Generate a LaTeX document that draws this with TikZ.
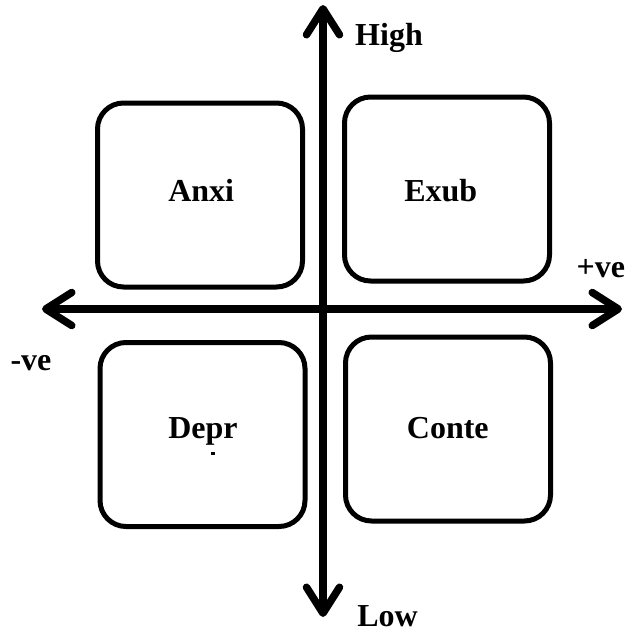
\documentclass[tikz,border=0pt]{standalone}
\usepackage{fontspec}
\setmainfont{Liberation Serif}
\usetikzlibrary{arrows.meta}
\begin{document}
\begin{tikzpicture}[x=1pt,y=-1pt,
  quad/.style={draw=black, line width=5pt, rounded corners=26pt,
    minimum width=205pt, minimum height=184pt, inner sep=0pt},
  word/.style={font=\fontsize{32}{32}\selectfont\bfseries, inner sep=0pt, anchor=base},
  axis/.style={line width=7.5pt, line cap=round,
    -{Straight Barb[length=26pt, width=33pt, round]}}]
  \useasboundingbox (0,0) rectangle (625,632);

  % four quadrant boxes
  \node[quad] (anx) at (200,195) {};
  \node[quad] (exu) at (447,189) {};
  \node[quad] (dep) at (202.5,434.5) {};
  \node[quad] (con) at (448,429) {};

  % box captions
  \node[word] (tanx) at (201.2,201) {Anxi};
  \node[word] (texu) at (440.8,201.7) {Exub};
  \node[word] (tdep) at (203,438) {Depr};
  \node[word] (tcon) at (447.8,438) {Conte};
  \fill (210.5,451.5) rectangle (214.5,454.5);

  % axes
  \coordinate (cen) at (323,309);
  \coordinate (up) at (323,5);
  \coordinate (down) at (323,617);
  \coordinate (left) at (42,309);
  \coordinate (right) at (622,309);
  \draw[axis] (cen) -- (up);
  \draw[axis] (cen) -- (down);
  \draw[axis] (cen) -- (left);
  \draw[axis] (cen) -- (right);

  % axis labels
  \node[word] (high) at (389,45) {High};
  \node[word] (low) at (387.5,626.5) {Low};
  \node[word] (pos) at (600.8,277) {+ve};
  \node[word] (neg) at (31,370.7) {-ve};
\end{tikzpicture}
\end{document}
